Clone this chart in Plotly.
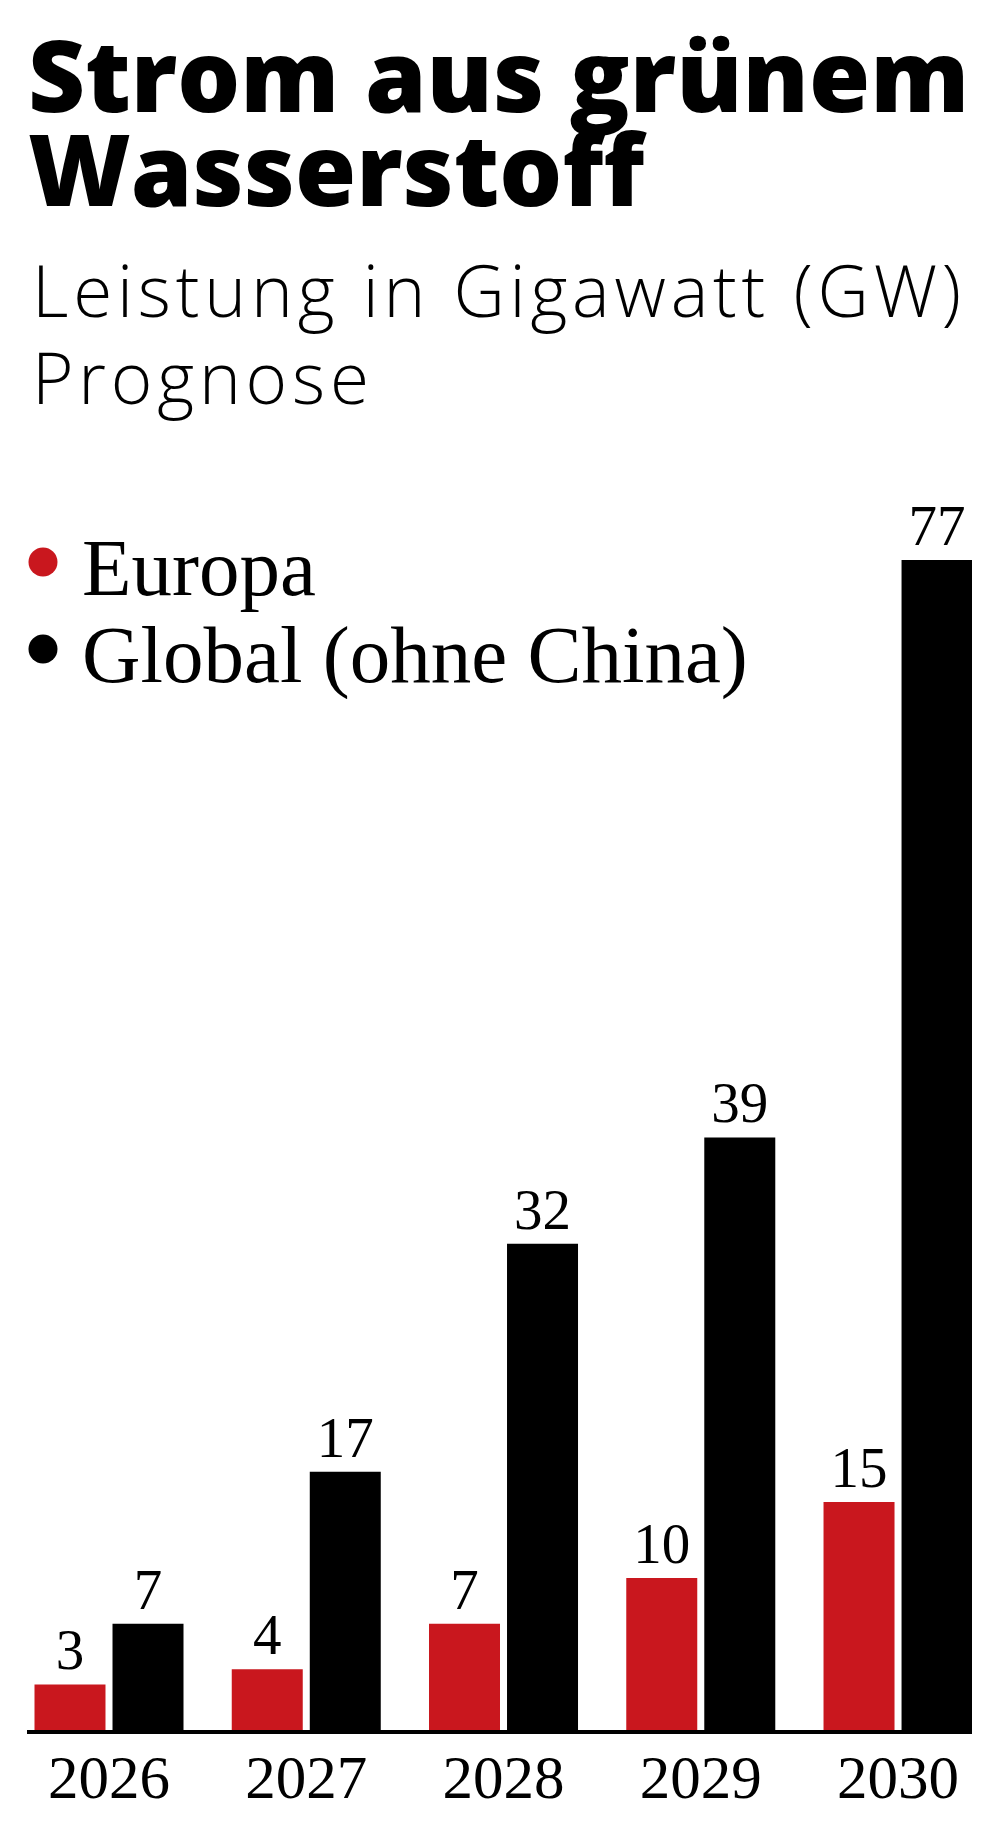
import plotly.graph_objects as go

# ---- data ----
years = ["2026", "2027", "2028", "2029", "2030"]
europa = [3, 4, 7, 10, 15]
global_ohne_china = [7, 17, 32, 39, 77]
series_names = ["Europa", "Global (ohne China)"]

title_lines = ["Strom aus grünem", "Wasserstoff"]
subtitle_lines = ["Leistung in Gigawatt (GW)", "Prognose"]

RED = "#c9171e"
BLACK = "#000000"

W, H = 1000, 1839
L, R = 27, 28
T, B = 400, 109
PLOT_W = W - L - R
PLOT_H = H - T - B


def px_x(px):
    return (px - L) / PLOT_W


def px_y(py):
    return (H - B - py) / PLOT_H


SERIF = "Liberation Serif, Times New Roman, serif"
SANS = "Open Sans, Noto Sans, sans-serif"

fig = go.Figure()
fig.add_trace(go.Bar(
    x=years, y=europa, name=series_names[0], marker=dict(color=RED, line=dict(width=0)),
    text=europa, textposition="outside", cliponaxis=False, constraintext="none",
    textfont=dict(family=SERIF, size=57, color=BLACK), showlegend=False,
))
fig.add_trace(go.Bar(
    x=years, y=global_ohne_china, name=series_names[1], marker=dict(color=BLACK, line=dict(width=0)),
    text=global_ohne_china, textposition="outside", cliponaxis=False, constraintext="none",
    textfont=dict(family=SERIF, size=57, color=BLACK), showlegend=False,
))

annotations = []
# title
for i, line in enumerate(title_lines):
    baseline = [108, 202][i]
    fs = 99
    annotations.append(dict(
        text=line, x=px_x(26), y=px_y(baseline + 0.35 * fs), xref="paper", yref="paper",
        xanchor="left", yanchor="bottom", showarrow=False,
        font=dict(family=SANS, size=fs, color=BLACK, weight=800),
    ))
# subtitle
for i, line in enumerate(subtitle_lines):
    baseline = [315, 402][i]
    fs = 71
    annotations.append(dict(
        text='<span style="letter-spacing:4.8px">' + line + '</span>',
        x=px_x(30), y=px_y(baseline + 0.35 * fs), xref="paper", yref="paper",
        xanchor="left", yanchor="bottom", showarrow=False,
        font=dict(family=SANS, size=fs, color=BLACK, weight=300),
    ))
# legend
shapes = []
leg_colors = [RED, BLACK]
for i, name in enumerate(series_names):
    baseline = [591, 678][i]
    fs = 81
    annotations.append(dict(
        text=name, x=px_x(80), y=px_y(baseline + 0.30 * fs), xref="paper", yref="paper",
        xanchor="left", yanchor="bottom", showarrow=False,
        font=dict(family=SERIF, size=fs, color=BLACK),
    ))
    cy = px_y(baseline - 29)
    shapes.append(dict(
        type="circle", xref="paper", yref="paper", xsizemode="pixel", ysizemode="pixel",
        xanchor=px_x(43), yanchor=cy, x0=-14.5, x1=14.5, y0=-14.5, y1=14.5,
        fillcolor=leg_colors[i], line=dict(width=0),
    ))

fig.update_layout(
    width=W, height=H,
    margin=dict(l=L, r=R, t=T, b=B, pad=0),
    paper_bgcolor="white", plot_bgcolor="white",
    barmode="group", bargap=0.209, bargroupgap=0.09,
    annotations=annotations, shapes=shapes,
    showlegend=False,
    xaxis=dict(
        type="category", range=[-0.4157, 4.375], showgrid=False, zeroline=False,
        showline=True, linecolor=BLACK, linewidth=4, ticks="",
        tickfont=dict(family=SERIF, size=61, color=BLACK), ticklabelstandoff=-9,
        fixedrange=True,
    ),
    yaxis=dict(
        range=[0, PLOT_H / 15.195], showgrid=False, zeroline=False, showline=False,
        showticklabels=False, ticks="", fixedrange=True,
    ),
)

fig.write_html("out.html")
